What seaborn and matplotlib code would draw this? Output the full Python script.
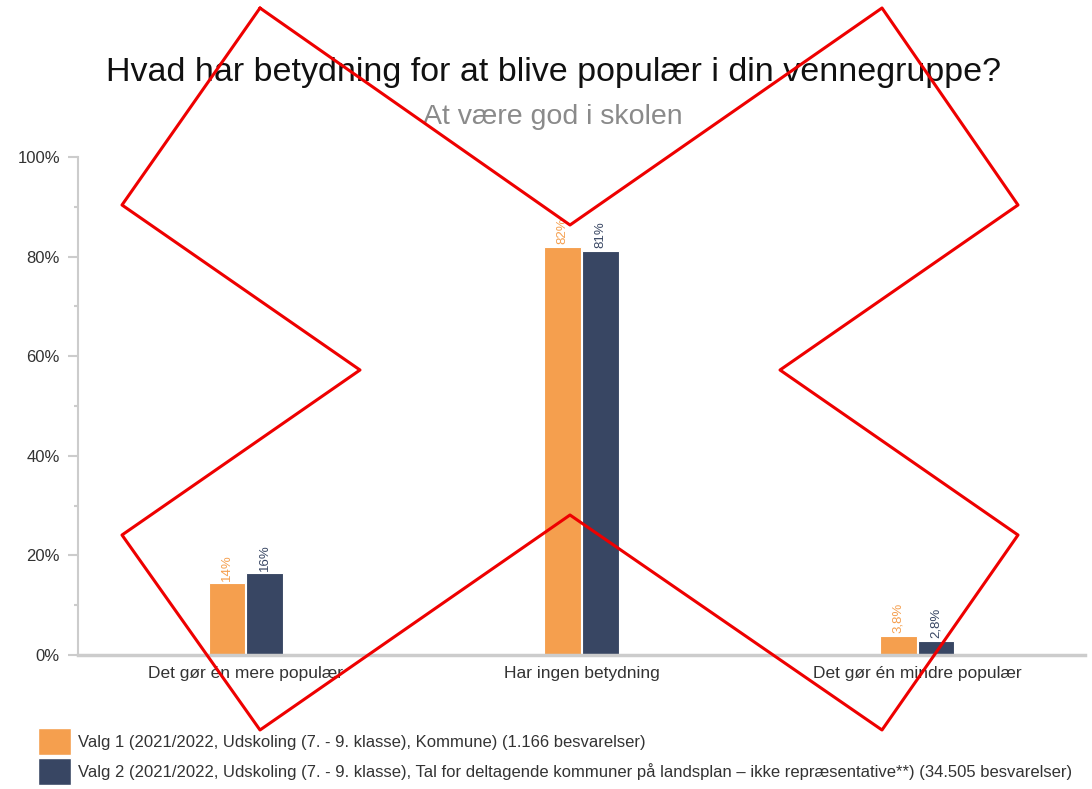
import matplotlib
matplotlib.use("Agg")
import matplotlib.pyplot as plt
from matplotlib.lines import Line2D
from matplotlib.patches import Patch
from matplotlib.ticker import MultipleLocator, FuncFormatter
import seaborn as sns
import pandas as pd

categories = ["Det gør én mere populær", "Har ingen betydning", "Det gør én mindre populær"]
series_names = [
    "Valg 1 (2021/2022, Udskoling (7. - 9. klasse), Kommune) (1.166 besvarelser)",
    "Valg 2 (2021/2022, Udskoling (7. - 9. klasse), Tal for deltagende kommuner på landsplan \u2013 ikke repræsentative**) (34.505 besvarelser)",
]
valg1 = [14.4, 81.9, 3.8]
valg2 = [16.4, 81.2, 2.8]
colors = ["#F59F4E", "#384663"]

df = pd.DataFrame({
    "kategori": categories * 2,
    "serie": [series_names[0]] * 3 + [series_names[1]] * 3,
    "andel": valg1 + valg2,
})

sns.set_style("white")
plt.rcParams["font.family"] = ["Liberation Sans", "DejaVu Sans"]

fig = plt.figure(figsize=(10.92, 7.89), dpi=100)
ax = fig.add_axes([78 / 1092, 1 - 655 / 789, (1085 - 78) / 1092, (655 - 157) / 789])

sns.barplot(data=df, x="kategori", y="andel", hue="serie", palette=colors,
            width=0.225, gap=0.03, ax=ax, legend=False, saturation=1,
            edgecolor="white", linewidth=0.8)

def fmt(v):
    if v >= 10:
        return f"{round(v):d}%"
    return f"{v:.1f}%".replace(".", ",")

for container, col in zip(ax.containers, colors):
    labels = [fmt(b.get_height()) for b in container]
    ax.bar_label(container, labels=labels, rotation=90, padding=2,
                 fontsize=9.5, color=col)

ax.set_ylim(0, 100)
ax.set_xlim(-0.5, 2.5)
ax.yaxis.set_major_locator(MultipleLocator(20))
ax.yaxis.set_minor_locator(MultipleLocator(10))
ax.yaxis.set_major_formatter(FuncFormatter(lambda v, p: f"{int(v)}%"))
ax.tick_params(axis="y", which="major", length=7, width=1.5, color="#cccccc",
               labelsize=12, labelcolor="#333333", pad=6, left=True)
ax.tick_params(axis="y", which="minor", length=3, width=1.5, color="#cccccc", left=True)
ax.tick_params(axis="x", length=0, labelsize=12.5, labelcolor="#333333", pad=8)
ax.set_xlabel("")
ax.set_ylabel("")
for s in ["top", "right"]:
    ax.spines[s].set_visible(False)
ax.spines["left"].set_color("#cccccc")
ax.spines["left"].set_linewidth(1.5)
ax.spines["bottom"].set_color("#cccccc")
ax.spines["bottom"].set_linewidth(2.5)

fig.text(553 / 1092, 1 - 72 / 789, "Hvad har betydning for at blive populær i din vennegruppe?",
         ha="center", va="center", fontsize=24.5, color="#111111")
fig.text(553 / 1092, 1 - 117 / 789, "At være god i skolen",
         ha="center", va="center", fontsize=20.5, color="#8a8a8a")

handles = [Patch(facecolor=c, edgecolor="white") for c in colors]
fig.legend(handles, series_names, loc="upper left",
           bbox_to_anchor=(38 / 1092, 1 - 728 / 789), frameon=False,
           fontsize=12, handlelength=1.95, handleheight=2.1, handletextpad=0.45,
           labelspacing=0.2, borderaxespad=0, borderpad=0, labelcolor="#333333")

# red cross outline drawn over the whole figure
cross = [(260, 8), (570, 225), (882, 8), (1018, 205), (780, 370), (1018, 535),
         (882, 730), (570, 515), (260, 730), (122, 535), (360, 370), (122, 205), (260, 8)]
xs = [p[0] / 1092 for p in cross]
ys = [1 - p[1] / 789 for p in cross]
fig.add_artist(Line2D(xs, ys, transform=fig.transFigure, color="#ee0000",
                      linewidth=2.2, zorder=10))

fig.savefig("out.png", dpi=100)
